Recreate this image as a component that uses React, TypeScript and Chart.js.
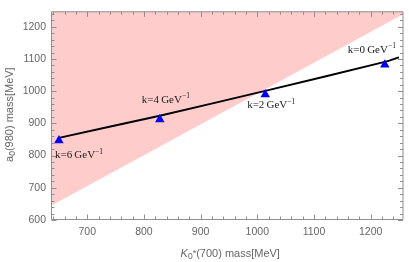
import React, { useEffect, useRef } from 'react';
import { Chart, registerables } from 'chart.js';

Chart.register(...registerables);

// ---- data ----
const xMin = 636;
const xMax = 1258;
const yMin = 600;
const yMax = 1248;
const xTicks = [700, 800, 900, 1000, 1100, 1200];
const yTicks = [600, 700, 800, 900, 1000, 1100, 1200];
const minorStep = 20;

const kValues = [6, 4, 2, 0];
const k0Mass = [650, 828, 1014, 1225];
const a0Mass = [847, 912, 990, 1082];

const curveX = [650, 828, 1014, 1225, 1250];
const curveY = [855, 924, 1001, 1091, 1105];

const regionX = [636, 1258];
const regionY = [644, 1240];

// ---- styles ----
const FRAME = '#8f8f8f';
const TICKTXT = '#666666';
const SANS = '"Liberation Sans", Arial, sans-serif';
const SERIF = '"Liberation Serif", "Times New Roman", serif';
// label offsets relative to marker pixel: [dx, dy, align]
const labelOffsets: [number, number, CanvasTextAlign][] = [
  [-4, 14, 'left'],
  [6, -21, 'center'],
  [6, 10, 'center'],
  [-13, -16, 'center'],
];

type Seg = { text: string; font: string; dy: number };

function drawRich(ctx: CanvasRenderingContext2D, segs: Seg[], x: number, y: number, align: CanvasTextAlign) {
  let total = 0;
  for (const s of segs) {
    ctx.font = s.font;
    total += ctx.measureText(s.text).width;
  }
  let cx = align === 'center' ? x - total / 2 : align === 'right' ? x - total : x;
  ctx.textAlign = 'left';
  ctx.textBaseline = 'alphabetic';
  for (const s of segs) {
    ctx.font = s.font;
    ctx.fillText(s.text, cx, y + s.dy);
    cx += ctx.measureText(s.text).width;
  }
}

const framePlugin = {
  id: 'framePlugin',
  afterDatasetsDraw(chart: any) {
    const { ctx, chartArea: a, scales } = chart;
    const xs = scales.x;
    const ys = scales.y;
    ctx.save();
    ctx.strokeStyle = FRAME;
    ctx.lineWidth = 1;
    const L = a.left + 0.5, R = a.right - 0.5, T = a.top + 0.5, B = a.bottom - 0.5;
    ctx.beginPath();
    ctx.rect(L, T, R - L, B - T);
    ctx.stroke();
    ctx.beginPath();
    for (let v = Math.ceil(xMin / minorStep) * minorStep; v <= xMax; v += minorStep) {
      const px = Math.round(xs.getPixelForValue(v)) + 0.5;
      const len = v % 100 === 0 ? 5 : 3;
      ctx.moveTo(px, B); ctx.lineTo(px, B - len);
      ctx.moveTo(px, T); ctx.lineTo(px, T + len);
    }
    for (let v = Math.ceil(yMin / minorStep) * minorStep; v <= yMax; v += minorStep) {
      const py = Math.round(ys.getPixelForValue(v)) + 0.5;
      const len = v % 100 === 0 ? 5 : 3;
      ctx.moveTo(L, py); ctx.lineTo(L + len, py);
      ctx.moveTo(R, py); ctx.lineTo(R - len, py);
    }
    ctx.stroke();

    // point labels
    ctx.fillStyle = '#1a1a1a';
    for (let i = 0; i < kValues.length; i++) {
      const px = xs.getPixelForValue(k0Mass[i]);
      const py = ys.getPixelForValue(a0Mass[i]);
      const [dx, dy, al] = labelOffsets[i];
      drawRich(ctx, [
        { text: `k=${kValues[i]}\u2009GeV`, font: `11px ${SERIF}`, dy: 0 },
        { text: '\u22121', font: `7.5px ${SERIF}`, dy: -4.5 },
      ], px + dx, py + dy + 4, al);
    }

    // axis titles
    ctx.fillStyle = TICKTXT;
    drawRich(ctx, [
      { text: 'K', font: `italic 11px ${SANS}`, dy: 0 },
      { text: '0', font: `8.5px ${SANS}`, dy: 2 },
      { text: '*', font: `9px ${SANS}`, dy: -1.5 },
      { text: '(700) mass[MeV]', font: `11px ${SANS}`, dy: 0 },
    ], (a.left + a.right) / 2 + 3, a.bottom + 37, 'center');

    ctx.translate(9, (a.top + a.bottom) / 2 - 1);
    ctx.rotate(-Math.PI / 2);
    drawRich(ctx, [
      { text: 'a', font: `11px ${SANS}`, dy: 0 },
      { text: '0', font: `8.5px ${SANS}`, dy: 2 },
      { text: '(980) mass[MeV]', font: `11px ${SANS}`, dy: 0 },
    ], 0, 4, 'center');
    ctx.restore();
  },
};

export default function App() {
  const ref = useRef<HTMLCanvasElement | null>(null);
  useEffect(() => {
    if (!ref.current) return;
    const chart = new Chart(ref.current, {
      type: 'line',
      data: {
        datasets: [
          {
            label: 'points',
            data: k0Mass.map((x, i) => ({ x, y: a0Mass[i] })),
            showLine: false,
            pointStyle: 'triangle',
            pointRadius: 5.5,
            pointBackgroundColor: '#0000ff',
            pointBorderColor: '#0000ff',
            pointBorderWidth: 0,
          },
          {
            label: 'curve',
            data: curveX.map((x, i) => ({ x, y: curveY[i] })),
            borderColor: '#000000',
            borderWidth: 2,
            pointRadius: 0,
            tension: 0.3,
            fill: false,
          },
          {
            label: 'region',
            data: regionX.map((x, i) => ({ x, y: regionY[i] })),
            borderWidth: 0,
            borderColor: 'rgba(0,0,0,0)',
            pointRadius: 0,
            backgroundColor: '#ffcccc',
            fill: 'end',
          },
        ],
      },
      options: {
        animation: false,
        responsive: true,
        maintainAspectRatio: false,
        layout: { padding: { top: 0, right: 4, left: 0, bottom: 0 } },
        plugins: { legend: { display: false }, tooltip: { enabled: false } },
        scales: {
          x: {
            type: 'linear',
            min: xMin,
            max: xMax,
            afterBuildTicks: (s: any) => { s.ticks = xTicks.map((v) => ({ value: v })); },
            afterFit: (s: any) => { s.height = 42; },
            grid: { display: false, drawTicks: false },
            border: { display: false },
            ticks: {
              padding: 6,
              color: TICKTXT,
              font: { family: SANS, size: 10.5 },
              maxRotation: 0,
              callback: (v: any) => String(v),
            },
          },
          y: {
            type: 'linear',
            min: yMin,
            max: yMax,
            afterBuildTicks: (s: any) => { s.ticks = yTicks.map((v) => ({ value: v })); },
            afterFit: (s: any) => { s.width = 51; },
            grid: { display: false, drawTicks: false },
            border: { display: false },
            ticks: {
              padding: 5,
              color: TICKTXT,
              font: { family: SANS, size: 10.5 },
              callback: (v: any) => String(v),
            },
          },
        },
      },
      plugins: [framePlugin],
    } as any);
    return () => chart.destroy();
  }, []);
  return (
    <div style={{ position: 'fixed', left: 0, top: 0, width: 409, height: 262, background: '#fff' }}>
      <canvas ref={ref} />
    </div>
  );
}
